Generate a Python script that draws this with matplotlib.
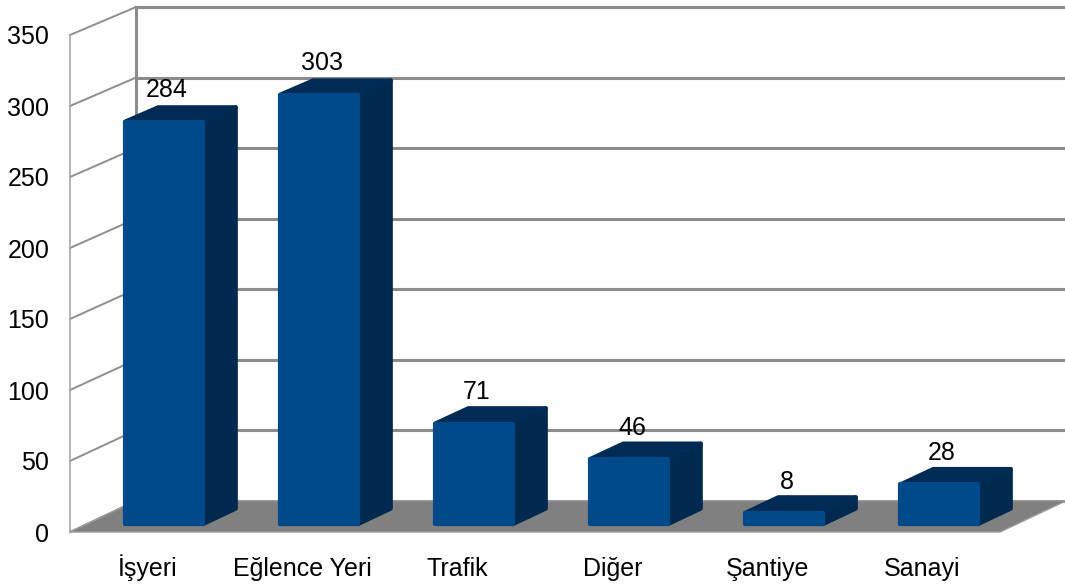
import matplotlib.pyplot as plt
from matplotlib.patches import Polygon

# data
categories = ['İşyeri', 'Eğlence Yeri', 'Trafik', 'Diğer', 'Şantiye', 'Sanayi']
values = [284, 303, 71, 46, 8, 28]
y_ticks = [0, 50, 100, 150, 200, 250, 300, 350]

plt.rcParams['font.family'] = ['Liberation Sans', 'DejaVu Sans']

fig = plt.figure(figsize=(10.65, 5.85), dpi=100)
ax = fig.add_axes([70 / 1065, 53 / 585, 930 / 1065, 497 / 585])
ax.set_xlim(0, len(categories))
ax.set_ylim(0, 350)

# oblique depth offset with a touch of perspective (data units)
dx = 66 / 155
dy = 22.0
k = 0.0066


def proj(x, v, d):
    return x + d * dx, v * (1 - k * d) + d * dy


d0, d1 = 0.25, 0.75   # bar front / back depth
w = 0.5
n = len(categories)
grid_c = '#8c8c8c'

# back wall + grid
for t in y_ticks:
    ax.plot(*zip(proj(0, t, 1), proj(n, t, 1)), color=grid_c, lw=2.2, zorder=1, clip_on=False)
    ax.plot(*zip(proj(0, t, 0), proj(0, t, 1)), color='#8e8e8e', lw=1.4, zorder=1, clip_on=False)
ax.plot(*zip(proj(0, 0, 1), proj(0, 350, 1)), color=grid_c, lw=2.2, zorder=1, clip_on=False)
ax.plot([0, 0], [0, 350], color='#a8a8a8', lw=1.2, zorder=1, clip_on=False)

# floor
floor = Polygon([proj(0, 0, 0), proj(n, 0, 0), proj(n, 0, 1), proj(0, 0, 1)], closed=True,
                facecolor='#808080', edgecolor='#9a9a9a', lw=1, zorder=2, clip_on=False)
ax.add_patch(floor)

front_c = '#004a8c'
side_c = '#00294f'
top_c = '#002b55'

for i, v in enumerate(values):
    xl = i + 0.5 - w / 2
    xr = i + 0.5 + w / 2
    side = Polygon([proj(xr, 0, d0), proj(xr, 0, d1), proj(xr, v, d1), proj(xr, v, d0)],
                   closed=True, facecolor=side_c, edgecolor=side_c, lw=3,
                   joinstyle='round', zorder=3, clip_on=False)
    top = Polygon([proj(xl, v, d0), proj(xr, v, d0), proj(xr, v, d1), proj(xl, v, d1)],
                  closed=True, facecolor=top_c, edgecolor=top_c, lw=3,
                  joinstyle='round', zorder=3, clip_on=False)
    front = Polygon([proj(xl, 0, d0), proj(xr, 0, d0), proj(xr, v, d0), proj(xl, v, d0)],
                    closed=True, facecolor=front_c, edgecolor=front_c, lw=3,
                    joinstyle='round', zorder=4, clip_on=False)
    ax.add_patch(side)
    ax.add_patch(top)
    ax.add_patch(front)
    ax.text(i + 0.52 + d0 * dx, v + 27.5, str(v), ha='center', va='center',
            fontsize=18, color='black', zorder=5)

ax.set_xticks([i + 0.5 for i in range(n)])
ax.set_xticklabels(categories, fontsize=18)
for lbl in ax.get_xticklabels():
    lbl.set_va('baseline')
ax.set_yticks(y_ticks)
ax.set_yticklabels([str(t) for t in y_ticks], fontsize=18)
ax.tick_params(axis='both', length=0)
ax.tick_params(axis='x', pad=32)
ax.tick_params(axis='y', pad=15)
for s in ax.spines.values():
    s.set_visible(False)
ax.patch.set_alpha(0)

fig.savefig('out.png', dpi=100)
